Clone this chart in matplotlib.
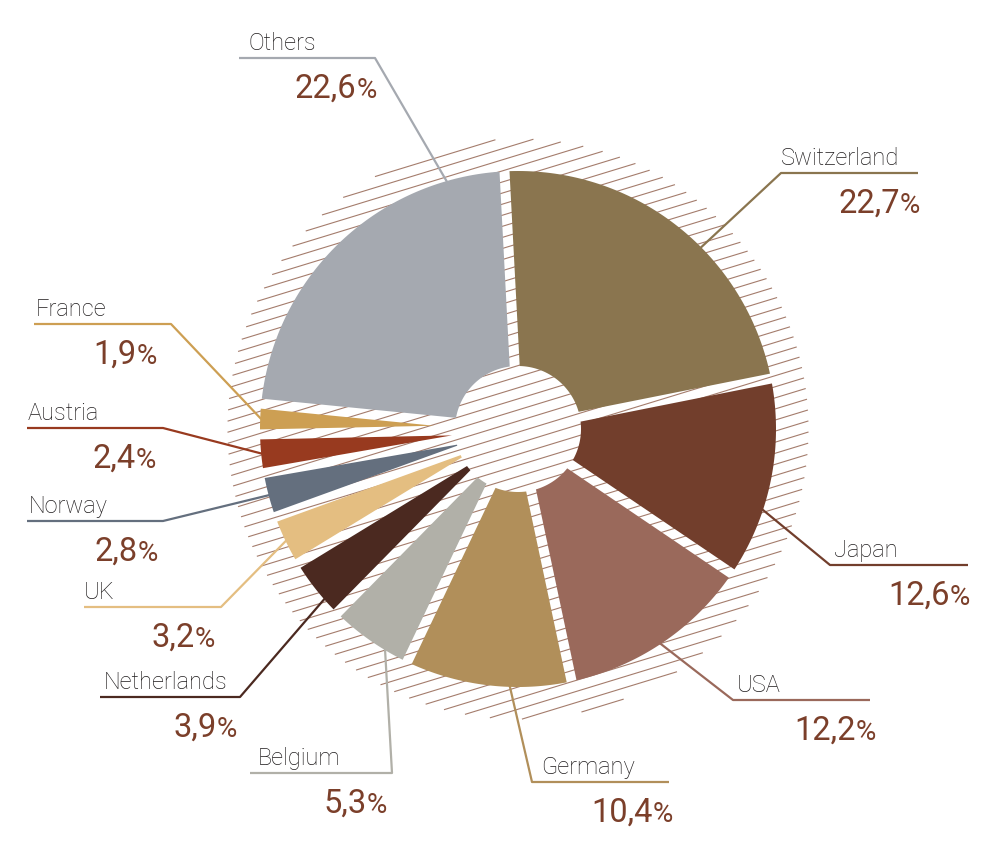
import numpy as np
import matplotlib.pyplot as plt
from matplotlib.patches import Polygon

plt.rcParams['font.family'] = ['Roboto', 'DejaVu Sans']

# data (clockwise from 12 o'clock)
countries = ["Switzerland", "Japan", "USA", "Germany", "Belgium", "Netherlands",
             "UK", "Norway", "Austria", "France", "Others"]
shares = [22.7, 12.6, 12.2, 10.4, 5.3, 3.9, 3.2, 2.8, 2.4, 1.9, 22.6]
colors = ["#8a754f", "#723e2c", "#9a695b", "#b18f5a", "#b1b0a8", "#4b2920",
          "#e4be81", "#646f7e", "#983a1f", "#cd9f53", "#a5a9b0"]

# layout, all in pixels
CX, CY = 518, 429
R_OUT, R_HOLE, R_HATCH = 258, 63, 290
HALF_GAP = 5
START = -3  # compass degrees

# anchor fraction inside wedge, elbow x, far x, line y, label x, percent right x
leader_frac = [0.59, 0.65, 0.51, 0.37, 0.30, 0.30, 0.50, 0.50, 0.50, 0.50, 0.84]
elbow_x = [781, 830, 733, 532, 392, 240, 221, 163, 163, 171, 375]
far_x = [918, 968, 870, 669, 250, 100, 84, 27, 27, 34, 239]
line_y = [173, 565, 700, 782, 773, 697, 607, 521, 428, 324, 58]
label_x = [781, 834, 737, 541, 258, 104, 84, 29, 28, 36, 249]
pct_right = [920, 970, 876, 673, 387, 237, 215, 158, 156, 157, 377]

LABEL_COLOR = "#1e1b1c"
PCT_COLOR = "#7b3f2a"
HATCH_COLOR = "#a47c6c"


def pt(c, r):
    c = np.radians(c)
    return CX + r * np.sin(c), CY - r * np.cos(c)


def wedge_poly(c1, c2):
    ao = np.degrees(np.arcsin(HALF_GAP / R_OUT))
    ai = np.degrees(np.arcsin(HALF_GAP / R_HOLE))
    cs = np.linspace(c1 + ao, c2 - ao, 80)
    xs, ys = pt(cs, R_OUT)
    verts = list(zip(xs, ys))
    if c1 + ai < c2 - ai:
        ci = np.linspace(c2 - ai, c1 + ai, 40)
        xi, yi = pt(ci, R_HOLE)
        verts += list(zip(xi, yi))
    else:
        half = np.radians((c2 - c1) / 2)
        verts.append(pt((c1 + c2) / 2, HALF_GAP / np.sin(half)))
    return verts


def main():
    fig = plt.figure(figsize=(10, 8.41), dpi=100)
    ax = fig.add_axes([0, 0, 1, 1])
    ax.set_xlim(0, 1000)
    ax.set_ylim(841, 0)
    ax.axis('off')

    # hatched disc behind
    ang = np.radians(17)
    d = np.array([np.cos(ang), -np.sin(ang)])
    n = np.array([np.sin(ang), np.cos(ang)])
    sp = 10.6
    for k in range(-27, 28):
        off = k * sp + 3
        if abs(off) >= R_HATCH:
            continue
        L = np.sqrt(R_HATCH ** 2 - off ** 2)
        p = np.array([CX, CY]) + off * n
        a, b = p - L * d, p + L * d
        ax.plot([a[0], b[0]], [a[1], b[1]], color=HATCH_COLOR, lw=0.8, zorder=1)

    # wedges
    total = sum(shares)
    edges = START + np.concatenate([[0], np.cumsum(shares)]) / total * 360
    renderer = fig.canvas.get_renderer()
    for i, name in enumerate(countries):
        c1, c2 = edges[i], edges[i + 1]
        ax.add_patch(Polygon(wedge_poly(c1, c2), closed=True, facecolor=colors[i],
                             edgecolor='none', zorder=2))

        # leader line
        ca = c1 + leader_frac[i] * (c2 - c1)
        axp, ayp = pt(ca, R_OUT - 1)
        ax.plot([axp, elbow_x[i], far_x[i]], [ayp, line_y[i], line_y[i]],
                color=colors[i], lw=1.6, zorder=3, solid_capstyle='butt')

        # country label
        ax.text(label_x[i], line_y[i] - 8, name, fontsize=17, fontweight='light',
                color=LABEL_COLOR, ha='left', va='baseline')

        # percentage, smaller % sign
        base = line_y[i] + 40
        t_pct = ax.text(pct_right[i], base, "%", fontsize=20, color=PCT_COLOR,
                        ha='right', va='baseline')
        w = t_pct.get_window_extent(renderer).width
        ax.text(pct_right[i] - w, base, f"{shares[i]:.1f}".replace('.', ','),
                fontsize=23.5, color=PCT_COLOR, ha='right', va='baseline')

    fig.savefig("out.png", dpi=100)


if __name__ == "__main__":
    main()
